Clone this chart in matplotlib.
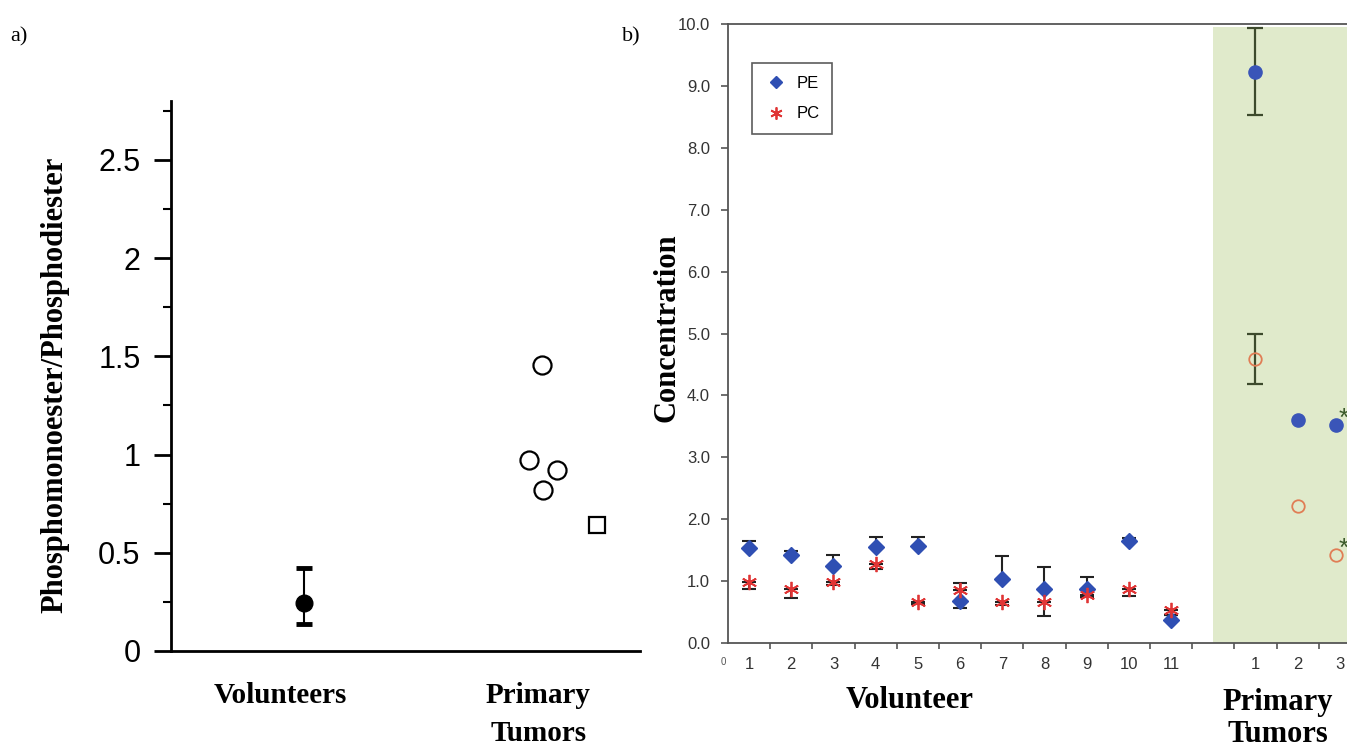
import matplotlib
matplotlib.use('Agg')
import matplotlib.pyplot as plt
from matplotlib.ticker import MultipleLocator, FixedLocator
from matplotlib.transforms import blended_transform_factory

# ---- panel a: ratio PME/PDE ----
vol_x = [0.851]
vol_mean = [0.244]
vol_err_low = [0.107]
vol_err_high = [0.179]
tumor_circle_x = [2.374, 2.290, 2.470, 2.380]
tumor_circle_y = [1.456, 0.972, 0.922, 0.820]
tumor_square_x = [2.726]
tumor_square_y = [0.642]
group_pos_a = [0.70, 2.35]
group_labels_a = ['Volunteers', 'Primary']

# ---- panel b: concentrations ----
volunteers = list(range(1, 12))
pe_vals = [1.53, 1.42, 1.24, 1.55, 1.56, 0.68, 1.03, 0.87, 0.87, 1.64, 0.37]
pe_upper = [1.65, 1.48, 1.42, 1.72, 1.72, 0.97, 1.40, 1.23, 1.07, 1.70, 0.45]
pc_vals = [0.99, 0.88, 0.99, 1.27, 0.66, 0.85, 0.66, 0.67, 0.78, 0.88, 0.53]
pc_lower = [0.87, 0.73, 0.93, 1.19, 0.63, 0.57, 0.62, 0.44, 0.74, 0.76, 0.45]

tumor_x = [13, 14, 14.9]
tumor_pe = [9.23, 3.60, 3.52]
tumor_pc = [4.59, 2.21, 1.42]
tumor_pe_err = [0.70, 0, 0]
tumor_pc_err = [0.40, 0, 0]
tumor_ticks = ['1', '2', '3']

W, H = 1347, 749
fig = plt.figure(figsize=(W / 100, H / 100), dpi=100)
serif = 'Liberation Serif'
sans = 'Liberation Sans'


def fx(px):
    return px / W


def fy(py):
    return 1 - py / H


# ================= panel a =================
axa = fig.add_axes([fx(171), fy(651), (640 - 171) / W, (651 - 101) / H])
axa.set_xlim(0, 3)
axa.set_ylim(0, 2.8)
for s in ['top', 'right']:
    axa.spines[s].set_visible(False)
axa.spines['left'].set_linewidth(2)
axa.spines['bottom'].set_linewidth(2)

axa.errorbar(vol_x, vol_mean, yerr=[vol_err_low, vol_err_high], fmt='o', color='black',
             ms=12, elinewidth=1.5, capsize=6, capthick=3.5, ls='none')
axa.plot(tumor_circle_x, tumor_circle_y, 'o', mfc='white', mec='black', mew=1.6, ms=13, ls='none')
axa.plot(tumor_square_x, tumor_square_y, 's', mfc='white', mec='black', mew=1.6, ms=11, ls='none')

axa.yaxis.set_minor_locator(MultipleLocator(0.25))
axa.set_yticks([0, 0.5, 1, 1.5, 2, 2.5])
axa.set_yticklabels(['0', '0.5', '1', '1.5', '2', '2.5'], fontfamily=sans, fontsize=22)
axa.tick_params(axis='y', which='major', length=12, width=2, pad=10, direction='out')
axa.tick_params(axis='y', which='minor', length=6, width=1.5, direction='out')
axa.set_xticks([])

# group labels under panel a (x in data units, y in figure pixels)
tr_a = blended_transform_factory(axa.transData, fig.transFigure)
axa.text(group_pos_a[0], fy(703), group_labels_a[0], transform=tr_a, ha='center',
         va='baseline', fontfamily=serif, fontweight='bold', fontsize=21)
axa.text(group_pos_a[1], fy(703), group_labels_a[1], transform=tr_a, ha='center',
         va='baseline', fontfamily=serif, fontweight='bold', fontsize=21)
axa.text(group_pos_a[1], fy(741), 'Tumors', transform=tr_a, ha='center',
         va='baseline', fontfamily=serif, fontweight='bold', fontsize=21)

fig.text(fx(55), fy(385), 'Phosphomonoester/Phosphodiester', rotation=90, ha='center',
         va='center', fontfamily=serif, fontweight='bold', fontsize=22)
fig.text(fx(10), fy(37), 'a)', ha='left', va='center', fontfamily=serif, fontsize=16)

# ================= panel b =================
axb = fig.add_axes([fx(728), fy(643), (W - 728) / W, (643 - 24) / H])
axb.set_xlim(0.5, 15.17)
axb.set_ylim(0, 10)
axb.axvspan(12, 15.17, ymin=0, ymax=0.995, color='#e0eacb', lw=0, zorder=0)
axb.spines['right'].set_visible(False)
for s in ['left', 'bottom', 'top']:
    axb.spines[s].set_color('#555555')
    axb.spines[s].set_linewidth(1.3)

# volunteer error bars (PE upward, PC downward)
pe_up = [u - v for u, v in zip(pe_upper, pe_vals)]
pc_dn = [v - l for v, l in zip(pc_vals, pc_lower)]
axb.errorbar(volunteers, pe_vals, yerr=[[0] * len(pe_vals), pe_up], fmt='none',
             ecolor='#222222', elinewidth=1.5, capsize=5, capthick=1.5, zorder=2)
axb.errorbar(volunteers, pc_vals, yerr=[pc_dn, [0] * len(pc_vals)], fmt='none',
             ecolor='#222222', elinewidth=1.5, capsize=5, capthick=1.5, zorder=2)
axb.plot(volunteers, pe_vals, 'D', color='#2f4fb3', ms=8, ls='none', zorder=3, label='PE')
axb.plot(volunteers, pc_vals, marker=(6, 2, 0), color='#e03535', ms=11, mew=1.3,
         ls='none', zorder=3, label='PC')

# tumors (only tumor 1 has error bars)
idx = [i for i, e in enumerate(tumor_pe_err) if e > 0]
axb.errorbar([tumor_x[i] for i in idx], [tumor_pe[i] for i in idx],
             yerr=[tumor_pe_err[i] for i in idx], fmt='none', ecolor='#3d4a2c',
             elinewidth=1.6, capsize=6, capthick=1.6, zorder=2)
idx = [i for i, e in enumerate(tumor_pc_err) if e > 0]
axb.errorbar([tumor_x[i] for i in idx], [tumor_pc[i] for i in idx],
             yerr=[tumor_pc_err[i] for i in idx], fmt='none', ecolor='#3d4a2c',
             elinewidth=1.6, capsize=6, capthick=1.6, zorder=2)
axb.plot(tumor_x, tumor_pe, 'o', color='#3a55b8', ms=9.5, ls='none', zorder=3)
axb.plot(tumor_x, tumor_pc, 'o', mfc='none', mec='#e07d55', mew=1.3, ms=9, ls='none', zorder=3)
axb.text(tumor_x[2] + 0.2, tumor_pe[2] + 0.1, '*', color='#3b5a2b', fontsize=19,
         ha='center', va='center', fontfamily=sans)
axb.text(tumor_x[2] + 0.2, tumor_pc[2] + 0.1, '*', color='#3b5a2b', fontsize=19,
         ha='center', va='center', fontfamily=sans)

axb.set_yticks(range(0, 11))
axb.set_yticklabels([f'{v:.1f}' for v in range(0, 11)], fontfamily=sans, fontsize=12,
                    color='#333333')
axb.tick_params(axis='y', length=5, width=1.2, color='#555555', pad=8, direction='out')

axb.xaxis.set_major_locator(FixedLocator([i + 0.5 for i in range(1, 15)]))
axb.set_xticklabels([])
axb.xaxis.set_minor_locator(FixedLocator(volunteers + tumor_x[:2] + [15]))
axb.xaxis.set_ticklabels([str(v) for v in volunteers] + tumor_ticks, minor=True,
                         fontfamily=sans, fontsize=12, color='#333333')
axb.tick_params(axis='x', which='major', length=4, width=1.2, color='#555555', direction='out')
axb.tick_params(axis='x', which='minor', length=0, pad=10)
axb.text(0.4, -0.22, '0', transform=axb.transData, fontsize=7, color='#555555',
         ha='center', va='top', fontfamily=sans, clip_on=False)

leg = axb.legend(loc='upper left', bbox_to_anchor=((752 - 728) / (W - 728), 1 - (63 - 24) / 619),
                 frameon=True, fancybox=False, edgecolor='#333333',
                 prop={'family': sans, 'size': 12}, handletextpad=0.5, handlelength=1.4,
                 borderpad=0.75, labelspacing=0.95, markerscale=0.8, borderaxespad=0)
leg.get_frame().set_linewidth(1.2)

fig.text(fx(667), fy(328), 'Concentration', rotation=90, ha='center', va='center',
         fontfamily=serif, fontweight='bold', fontsize=22)
fig.text(fx(910), fy(700), 'Volunteer', ha='center', va='center', fontfamily=serif,
         fontweight='bold', fontsize=22)
fig.text(fx(1278), fy(710), 'Primary', ha='center', va='baseline', fontfamily=serif,
         fontweight='bold', fontsize=22)
fig.text(fx(1278), fy(742), 'Tumors', ha='center', va='baseline', fontfamily=serif,
         fontweight='bold', fontsize=22)
fig.text(fx(622), fy(37), 'b)', ha='left', va='center', fontfamily=serif, fontsize=16)

fig.savefig('out.png', dpi=100)
